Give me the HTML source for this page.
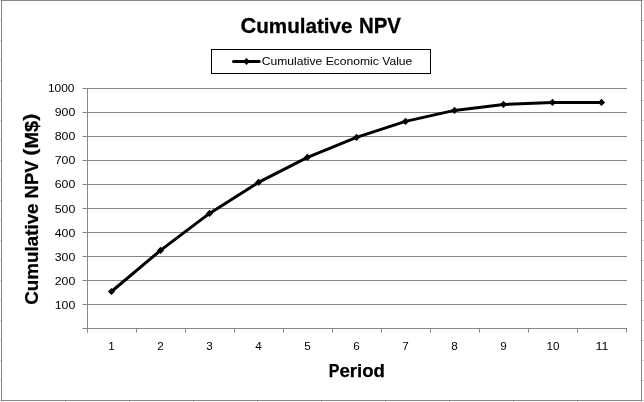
<!DOCTYPE html>
<html><head><meta charset="utf-8"><title>Cumulative NPV</title><style>
html,body{margin:0;padding:0;background:#fff;width:644px;height:402px;overflow:hidden}
svg{display:block;filter:grayscale(1)}
text{font-family:"Liberation Sans",Arial,sans-serif;fill:#000}
</style></head><body>
<svg width="644" height="402" viewBox="0 0 644 402">
<rect x="0" y="0" width="644" height="402" fill="#fff"/>
<g stroke="#d4d4d4" stroke-width="1" shape-rendering="crispEdges">
<line x1="0" y1="0.5" x2="1" y2="0.5"/>
<line x1="0" y1="20.5" x2="1" y2="20.5"/>
<line x1="0" y1="40.5" x2="1" y2="40.5"/>
<line x1="0" y1="60.5" x2="1" y2="60.5"/>
<line x1="0" y1="80.5" x2="1" y2="80.5"/>
<line x1="0" y1="100.5" x2="1" y2="100.5"/>
<line x1="0" y1="120.5" x2="1" y2="120.5"/>
<line x1="0" y1="140.5" x2="1" y2="140.5"/>
<line x1="0" y1="160.5" x2="1" y2="160.5"/>
<line x1="0" y1="180.5" x2="1" y2="180.5"/>
<line x1="0" y1="200.5" x2="1" y2="200.5"/>
<line x1="0" y1="220.5" x2="1" y2="220.5"/>
<line x1="0" y1="240.5" x2="1" y2="240.5"/>
<line x1="0" y1="260.5" x2="1" y2="260.5"/>
<line x1="0" y1="280.5" x2="1" y2="280.5"/>
<line x1="0" y1="300.5" x2="1" y2="300.5"/>
<line x1="0" y1="320.5" x2="1" y2="320.5"/>
<line x1="0" y1="340.5" x2="1" y2="340.5"/>
<line x1="0" y1="360.5" x2="1" y2="360.5"/>
<line x1="0" y1="380.5" x2="1" y2="380.5"/>
<line x1="0" y1="400.5" x2="1" y2="400.5"/>
<line x1="642" y1="0.5" x2="644" y2="0.5"/>
<line x1="642" y1="20.5" x2="644" y2="20.5"/>
<line x1="642" y1="40.5" x2="644" y2="40.5"/>
<line x1="642" y1="60.5" x2="644" y2="60.5"/>
<line x1="642" y1="80.5" x2="644" y2="80.5"/>
<line x1="642" y1="100.5" x2="644" y2="100.5"/>
<line x1="642" y1="120.5" x2="644" y2="120.5"/>
<line x1="642" y1="140.5" x2="644" y2="140.5"/>
<line x1="642" y1="160.5" x2="644" y2="160.5"/>
<line x1="642" y1="180.5" x2="644" y2="180.5"/>
<line x1="642" y1="200.5" x2="644" y2="200.5"/>
<line x1="642" y1="220.5" x2="644" y2="220.5"/>
<line x1="642" y1="240.5" x2="644" y2="240.5"/>
<line x1="642" y1="260.5" x2="644" y2="260.5"/>
<line x1="642" y1="280.5" x2="644" y2="280.5"/>
<line x1="642" y1="300.5" x2="644" y2="300.5"/>
<line x1="642" y1="320.5" x2="644" y2="320.5"/>
<line x1="642" y1="340.5" x2="644" y2="340.5"/>
<line x1="642" y1="360.5" x2="644" y2="360.5"/>
<line x1="642" y1="380.5" x2="644" y2="380.5"/>
<line x1="642" y1="400.5" x2="644" y2="400.5"/>
<line x1="1.5" y1="401" x2="1.5" y2="402"/>
<line x1="65.5" y1="401" x2="65.5" y2="402"/>
<line x1="129.5" y1="401" x2="129.5" y2="402"/>
<line x1="193.5" y1="401" x2="193.5" y2="402"/>
<line x1="257.5" y1="401" x2="257.5" y2="402"/>
<line x1="321.5" y1="401" x2="321.5" y2="402"/>
<line x1="385.5" y1="401" x2="385.5" y2="402"/>
<line x1="449.5" y1="401" x2="449.5" y2="402"/>
<line x1="513.5" y1="401" x2="513.5" y2="402"/>
<line x1="577.5" y1="401" x2="577.5" y2="402"/>
<line x1="641.5" y1="401" x2="641.5" y2="402"/>
</g>
<rect x="1.5" y="0.5" width="640" height="400" fill="#fff" stroke="#868686" stroke-width="1" shape-rendering="crispEdges"/>
<g font-weight="bold" text-anchor="middle" stroke="#000" stroke-width="0.3">
<text x="296.5" y="33" font-size="22" textLength="112" lengthAdjust="spacingAndGlyphs">C<tspan font-size="20.8">umulative</tspan></text>
<text x="380.0" y="33" font-size="22" textLength="42" lengthAdjust="spacingAndGlyphs">NPV</text>
</g>
<rect x="211.5" y="49.5" width="219" height="24" fill="none" stroke="#000" stroke-width="1" shape-rendering="crispEdges"/>
<line x1="233.5" y1="61.5" x2="259.2" y2="61.5" stroke="#000" stroke-width="3" stroke-linecap="round"/>
<path d="M246.5 58 L250 61.5 L246.5 65 L243 61.5Z" fill="#000"/>
<text x="261.8" y="64.6" font-size="11" textLength="150.5" lengthAdjust="spacingAndGlyphs">Cumulative Economic Value</text>
<g stroke="#868686" stroke-width="1" shape-rendering="crispEdges">
<line x1="83" y1="88.5" x2="627" y2="88.5"/>
<line x1="83" y1="112.5" x2="627" y2="112.5"/>
<line x1="83" y1="136.5" x2="627" y2="136.5"/>
<line x1="83" y1="160.5" x2="627" y2="160.5"/>
<line x1="83" y1="184.5" x2="627" y2="184.5"/>
<line x1="83" y1="208.5" x2="627" y2="208.5"/>
<line x1="83" y1="232.5" x2="627" y2="232.5"/>
<line x1="83" y1="256.5" x2="627" y2="256.5"/>
<line x1="83" y1="280.5" x2="627" y2="280.5"/>
<line x1="83" y1="304.5" x2="627" y2="304.5"/>
<line x1="83" y1="328.5" x2="626" y2="328.5"/>
<line x1="87.5" y1="88" x2="87.5" y2="332"/>
<line x1="87.5" y1="328" x2="87.5" y2="332"/>
<line x1="136.5" y1="328" x2="136.5" y2="332"/>
<line x1="185.5" y1="328" x2="185.5" y2="332"/>
<line x1="234.5" y1="328" x2="234.5" y2="332"/>
<line x1="283.5" y1="328" x2="283.5" y2="332"/>
<line x1="332.5" y1="328" x2="332.5" y2="332"/>
<line x1="381.5" y1="328" x2="381.5" y2="332"/>
<line x1="430.5" y1="328" x2="430.5" y2="332"/>
<line x1="479.5" y1="328" x2="479.5" y2="332"/>
<line x1="528.5" y1="328" x2="528.5" y2="332"/>
<line x1="577.5" y1="328" x2="577.5" y2="332"/>
<line x1="626.5" y1="328" x2="626.5" y2="332"/>
</g>
<g fill="#b8b8b8" shape-rendering="crispEdges">
<rect x="87" y="332" width="1" height="1"/>
<rect x="136" y="332" width="1" height="1"/>
<rect x="185" y="332" width="1" height="1"/>
<rect x="234" y="332" width="1" height="1"/>
<rect x="283" y="332" width="1" height="1"/>
<rect x="332" y="332" width="1" height="1"/>
<rect x="381" y="332" width="1" height="1"/>
<rect x="430" y="332" width="1" height="1"/>
<rect x="479" y="332" width="1" height="1"/>
<rect x="528" y="332" width="1" height="1"/>
<rect x="577" y="332" width="1" height="1"/>
<rect x="626" y="332" width="1" height="1"/>
<rect x="82" y="88" width="1" height="1"/>
<rect x="82" y="112" width="1" height="1"/>
<rect x="82" y="136" width="1" height="1"/>
<rect x="82" y="160" width="1" height="1"/>
<rect x="82" y="184" width="1" height="1"/>
<rect x="82" y="208" width="1" height="1"/>
<rect x="82" y="232" width="1" height="1"/>
<rect x="82" y="256" width="1" height="1"/>
<rect x="82" y="280" width="1" height="1"/>
<rect x="82" y="304" width="1" height="1"/>
<rect x="82" y="328" width="1" height="1"/>
</g>
<g font-size="11" text-anchor="end">
<text x="75.3" y="309.05" textLength="20.6" lengthAdjust="spacingAndGlyphs">100</text>
<text x="75.3" y="285.05" textLength="20.6" lengthAdjust="spacingAndGlyphs">200</text>
<text x="75.3" y="261.05" textLength="20.6" lengthAdjust="spacingAndGlyphs">300</text>
<text x="75.3" y="237.05" textLength="20.6" lengthAdjust="spacingAndGlyphs">400</text>
<text x="75.3" y="213.05" textLength="20.6" lengthAdjust="spacingAndGlyphs">500</text>
<text x="75.3" y="188.20" textLength="20.6" lengthAdjust="spacingAndGlyphs">600</text>
<text x="75.3" y="164.20" textLength="20.6" lengthAdjust="spacingAndGlyphs">700</text>
<text x="75.3" y="140.20" textLength="20.6" lengthAdjust="spacingAndGlyphs">800</text>
<text x="75.3" y="116.20" textLength="20.6" lengthAdjust="spacingAndGlyphs">900</text>
<text x="74.5" y="92.20" textLength="26.6" lengthAdjust="spacingAndGlyphs">1000</text>
</g>
<g font-size="11" text-anchor="middle">
<text x="111.50" y="350.1" textLength="6.5" lengthAdjust="spacingAndGlyphs">1</text>
<text x="160.50" y="350.1" textLength="6.5" lengthAdjust="spacingAndGlyphs">2</text>
<text x="209.50" y="350.1" textLength="6.5" lengthAdjust="spacingAndGlyphs">3</text>
<text x="258.50" y="350.1" textLength="6.5" lengthAdjust="spacingAndGlyphs">4</text>
<text x="307.50" y="350.1" textLength="6.5" lengthAdjust="spacingAndGlyphs">5</text>
<text x="356.50" y="350.1" textLength="6.5" lengthAdjust="spacingAndGlyphs">6</text>
<text x="405.50" y="350.1" textLength="6.5" lengthAdjust="spacingAndGlyphs">7</text>
<text x="454.50" y="350.1" textLength="6.5" lengthAdjust="spacingAndGlyphs">8</text>
<text x="503.50" y="350.1" textLength="6.5" lengthAdjust="spacingAndGlyphs">9</text>
<text x="553.00" y="350.1" textLength="13.0" lengthAdjust="spacingAndGlyphs">10</text>
<text x="602.00" y="350.1" textLength="13.0" lengthAdjust="spacingAndGlyphs">11</text>
</g>
<g text-anchor="middle" font-size="17.5" font-weight="bold" stroke="#000" stroke-width="0.25">
<text x="333.95" y="376.7" textLength="10.6" lengthAdjust="spacingAndGlyphs">P</text>
<text x="362.2" y="376.7" textLength="45.5" lengthAdjust="spacingAndGlyphs">eriod</text>
</g>
<g transform="translate(37.5,0) rotate(-90)" text-anchor="middle" font-size="17.5" font-weight="bold" stroke="#000" stroke-width="0.25">
<text x="-254.10" y="0" textLength="101.2" lengthAdjust="spacingAndGlyphs">Cumulative</text>
<text x="-179.40" y="0" textLength="38.0" lengthAdjust="spacingAndGlyphs">NPV</text>
<text x="-134.70" y="0" textLength="42.0" lengthAdjust="spacingAndGlyphs"><tspan font-size="18.5" dy="-1.4">(</tspan><tspan dy="1.4">M$</tspan><tspan font-size="18.5" dy="-1.4">)</tspan></text>
</g>
<polyline points="111.5,291.5 160.5,250.4 209.5,213.4 258.5,182.4 307.5,157.3 356.5,137.4 405.5,121.4 454.5,110.4 503.5,104.4 552.5,102.4 601.5,102.4" fill="none" stroke="#000" stroke-width="3" stroke-linejoin="round" stroke-linecap="round"/>
<g fill="#000">
<path d="M111.5 287.9 L115.1 291.5 L111.5 295.1 L107.9 291.5Z"/>
<path d="M160.5 246.8 L164.1 250.4 L160.5 254.0 L156.9 250.4Z"/>
<path d="M209.5 209.8 L213.1 213.4 L209.5 217.0 L205.9 213.4Z"/>
<path d="M258.5 178.8 L262.1 182.4 L258.5 186.0 L254.9 182.4Z"/>
<path d="M307.5 153.7 L311.1 157.3 L307.5 160.9 L303.9 157.3Z"/>
<path d="M356.5 133.8 L360.1 137.4 L356.5 141.0 L352.9 137.4Z"/>
<path d="M405.5 117.8 L409.1 121.4 L405.5 125.0 L401.9 121.4Z"/>
<path d="M454.5 106.8 L458.1 110.4 L454.5 114.0 L450.9 110.4Z"/>
<path d="M503.5 100.8 L507.1 104.4 L503.5 108.0 L499.9 104.4Z"/>
<path d="M552.5 98.8 L556.1 102.4 L552.5 106.0 L548.9 102.4Z"/>
<path d="M601.5 98.8 L605.1 102.4 L601.5 106.0 L597.9 102.4Z"/>
</g>
</svg>
</body></html>
